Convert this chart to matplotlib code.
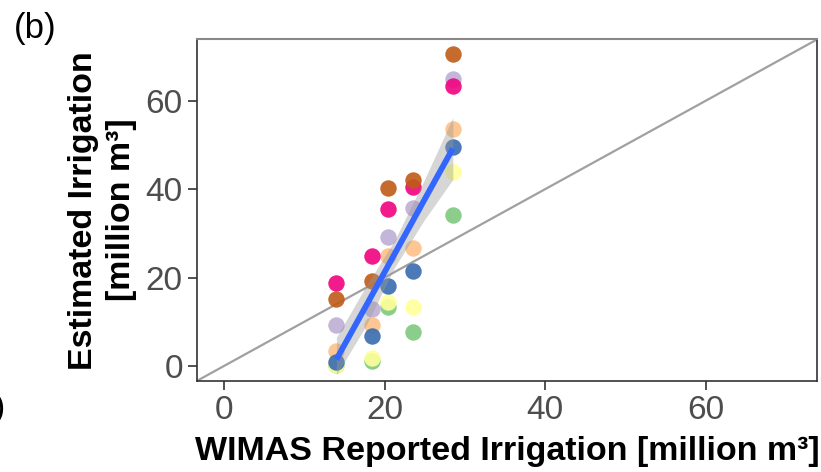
import matplotlib
matplotlib.use('Agg')
import matplotlib.pyplot as plt
import numpy as np

plt.rcParams['font.family'] = ['Liberation Sans', 'DejaVu Sans']

# WIMAS reported irrigation (x) and estimates from 7 sources (y)
reported = [14.0, 18.4, 20.4, 23.5, 28.5]
est_green = [0.2, 1.2, 13.4, 7.6, 34.2]
est_lavender = [9.2, 13.0, 29.1, 35.8, 65.0]
est_orange = [3.4, 9.3, 24.8, 26.7, 53.6]
est_yellow = [0.2, 1.7, 14.5, 13.4, 43.8]
est_blue = [0.8, 6.7, 18.2, 21.5, 49.5]
est_pink = [18.8, 24.8, 35.6, 40.6, 63.3]
est_brown = [15.1, 19.2, 40.2, 42.1, 70.5]

series = [est_green, est_lavender, est_orange, est_yellow, est_blue, est_pink, est_brown]
colors = ['#7FC97F', '#BEAED4', '#FDC086', '#FFFF99', '#386CB0', '#F0027F', '#BF5B17']

# smooth line and its confidence band
fit_x = [14.0, 17.6, 21.25, 24.9, 28.5]
fit_y = [1.5, 13.3, 25.35, 37.4, 49.2]
band_lo = [-2.0, 8.8, 22.3, 32.9, 42.2]
band_hi = [6.5, 17.8, 28.4, 41.9, 56.2]

lims = (-3.4, 73.9)

fig = plt.figure(figsize=(8.21, 4.72), dpi=100)
ax = fig.add_axes([0.2396, 0.1928, 0.7559, 0.7239])

ax.plot(lims, lims, color='#A0A0A0', lw=1.6, zorder=1)

for vals, c in zip(series, colors):
    ax.scatter(reported, vals, s=140, color=c, alpha=0.9, linewidths=0, zorder=2)

ax.fill_between(fit_x, band_lo, band_hi, color='#999999', alpha=0.4, linewidth=0, zorder=3)
ax.plot(fit_x, fit_y, color='#3366FF', lw=4.2, solid_capstyle='butt', zorder=4)

ax.set_xlim(*lims)
ax.set_ylim(*lims)
ax.set_xticks([0, 20, 40, 60])
ax.set_yticks([0, 20, 40, 60])
ax.tick_params(labelsize=24, labelcolor='#4D4D4D', color='#333333', length=6.5, width=1.2, pad=3.5)

for side in ['left', 'bottom', 'right']:
    ax.spines[side].set_color('#333333')
    ax.spines[side].set_linewidth(1.2)
ax.spines['top'].set_color('#888888')
ax.spines['top'].set_linewidth(1.5)

ax.set_xlabel('WIMAS Reported Irrigation [million m³]', fontsize=24.5, fontweight='bold', labelpad=7)
ax.set_ylabel('Estimated Irrigation\n[million m³]', fontsize=24.5, fontweight='bold', labelpad=6,
              linespacing=1.3)

fig.text(0.017, 0.975, '(b)', fontsize=25, va='top', ha='left')
fig.text(0.006, 0.135, ')', fontsize=24, va='center', ha='right')

fig.savefig('out.png', dpi=100)
